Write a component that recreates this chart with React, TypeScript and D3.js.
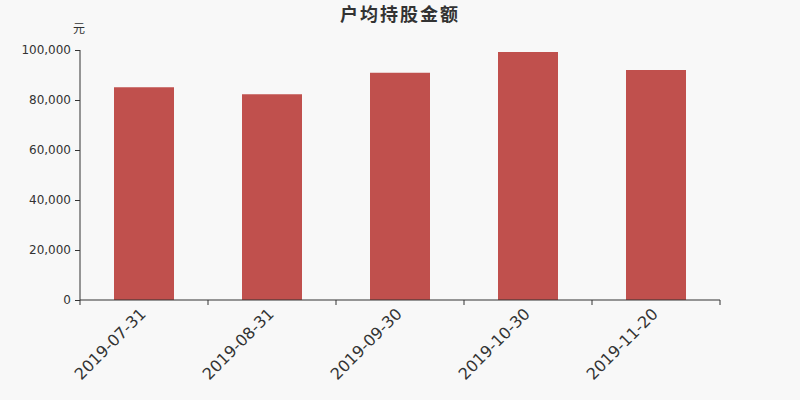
import React, { useRef, useEffect } from 'react';
import * as d3 from 'd3';

const categories = ['2019-07-31', '2019-08-31', '2019-09-30', '2019-10-30', '2019-11-20'];
const values = [85100, 82300, 90900, 99200, 92000];
const yTicks = [0, 20000, 40000, 60000, 80000, 100000];

const App: React.FC = () => {
  const svgRef = useRef<SVGSVGElement>(null);

  useEffect(() => {
    if (!svgRef.current) return;
    const svg = d3.select(svgRef.current);
    svg.selectAll('*').remove();

    const width = 800;
    const height = 400;
    const margin = { top: 50, right: 80, bottom: 100, left: 80 };
    const innerW = width - margin.left - margin.right;
    const innerH = height - margin.top - margin.bottom;
    const font = '"DejaVu Sans", "Noto Sans CJK SC", sans-serif';

    svg.append('rect').attr('width', width).attr('height', height).attr('fill', '#f8f8f8');

    const g = svg.append('g').attr('transform', `translate(${margin.left},${margin.top})`);

    const x = d3.scaleBand().domain(categories).range([0, innerW]);
    const y = d3.scaleLinear().domain([0, 100000]).range([innerH, 0]);
    const barW = 60;

    // Bars
    g.selectAll('.bar')
      .data(categories)
      .enter().append('rect')
      .attr('class', 'bar')
      .attr('x', (d) => (x(d) || 0) + (x.bandwidth() - barW) / 2)
      .attr('width', barW)
      .attr('y', (_, i) => y(values[i]))
      .attr('height', (_, i) => innerH - y(values[i]))
      .attr('fill', '#c0504d');

    // Y axis
    const yAxis = g.append('g')
      .call(d3.axisLeft(y).tickValues(yTicks).tickSize(5).tickPadding(4).tickFormat(d3.format(',')));
    yAxis.selectAll('line').attr('stroke', '#333');
    yAxis.select('.domain').attr('stroke', '#333').attr('d', `M0,${innerH}V0`);
    yAxis.selectAll('text').attr('fill', '#333').attr('font-size', '12px').attr('font-family', font);

    // X axis
    const xAxis = g.append('g').attr('transform', `translate(0,${innerH})`);
    xAxis.append('line').attr('x1', 0).attr('x2', innerW).attr('stroke', '#333');
    const bounds = [...categories.map((d) => x(d) || 0), innerW];
    xAxis.selectAll('.tick')
      .data(bounds)
      .enter().append('line')
      .attr('x1', (d) => d).attr('x2', (d) => d)
      .attr('y1', 0).attr('y2', 5)
      .attr('stroke', '#333');
    xAxis.selectAll('.lbl')
      .data(categories)
      .enter().append('text')
      .attr('transform', (d) => `translate(${(x(d) || 0) + x.bandwidth() / 2 - 1},${11}) rotate(-45)`)
      .attr('text-anchor', 'end')
      .attr('dy', '0.35em')
      .attr('fill', '#333')
      .attr('font-size', '16px')
      .attr('font-family', font)
      .text((d) => d);

    // Unit label
    svg.append('text')
      .attr('x', 79).attr('y', 33)
      .attr('text-anchor', 'middle')
      .attr('fill', '#333').attr('font-size', '12px').attr('font-family', font)
      .text('元');

    // Title
    svg.append('text')
      .attr('x', 400).attr('y', 21)
      .attr('text-anchor', 'middle')
      .attr('fill', '#333').attr('font-size', '18px').attr('font-weight', 'bold')
      .attr('letter-spacing', '2px')
      .attr('font-family', font)
      .text('户均持股金额');
  }, []);

  return (
    <svg ref={svgRef} width={800} height={400} style={{ display: 'block', position: 'absolute', left: 0, top: 0 }} />
  );
};

export default App;
